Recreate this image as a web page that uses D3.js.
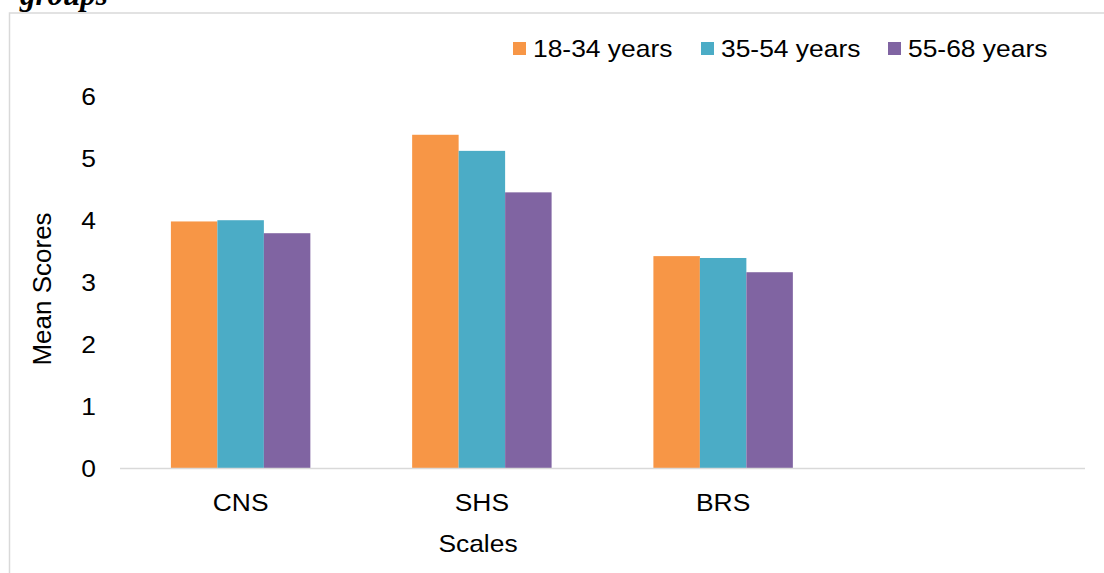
<!DOCTYPE html>
<html>
<head>
<meta charset="utf-8">
<script src="https://cdn.jsdelivr.net/npm/d3@7"></script>
<style>
  html, body { margin: 0; padding: 0; background: #fff; }
  svg { display: block; }
  text { font-family: "Liberation Sans", Arial, sans-serif; fill: #000; }
</style>
</head>
<body>
<svg id="chart" width="1104" height="573"></svg>
<script>
// ---- data ----
const categories = ["CNS", "SHS", "BRS", ""];
const seriesNames = ["18-34 years", "35-54 years", "55-68 years"];
const values1834 = [3.99, 5.39, 3.43, null];
const values3554 = [4.01, 5.13, 3.40, null];
const values5568 = [3.80, 4.46, 3.17, null];
const yTicks = [0, 1, 2, 3, 4, 5, 6];
const colors = ["#F79646", "#4BACC6", "#8064A2"];
const titleText = "groups";
const xTitle = "Scales";
const yTitle = "Mean Scores";

const seriesValues = [values1834, values3554, values5568];

// ---- layout ----
const svg = d3.select("#chart");
const plot = { left: 120, right: 1085, top: 97, bottom: 468.5 };
const sx = 1.1; // horizontal text stretch

// border frame
svg.append("rect")
  .attr("x", 9.5).attr("y", 13)
  .attr("width", 1200).attr("height", 1000)
  .attr("fill", "none").attr("stroke", "#d9d9d9").attr("stroke-width", 1.5);

// cut-off title
svg.append("text")
  .attr("transform", `translate(20,5)`)
  .style("font-family", "'Liberation Serif', 'Times New Roman', serif")
  .style("font-weight", "bold").style("font-style", "italic")
  .style("font-size", "31px")
  .text(titleText);

const x0 = d3.scaleBand().domain(categories).range([plot.left, plot.right]).padding(0);
const groupW = x0.bandwidth() / 1.73;
const x1 = d3.scaleBand().domain(seriesNames).range([0, groupW]).padding(0);
const y = d3.scaleLinear().domain([0, 6]).range([plot.bottom, plot.top]);

// y tick labels
svg.append("g").selectAll("text").data(yTicks).join("text")
  .attr("transform", d => `translate(96,${y(d)}) scale(${sx},1)`)
  .attr("dy", "0.35em")
  .attr("text-anchor", "end")
  .style("font-size", "24px")
  .text(d => d);

// bars
const groups = svg.append("g").selectAll("g").data(categories).join("g")
  .attr("transform", d => `translate(${x0(d) + (x0.bandwidth() - groupW) / 2},0)`);
groups.selectAll("rect")
  .data((c, ci) => seriesNames.map((s, si) => ({ s, si, v: seriesValues[si][ci] })).filter(d => d.v != null))
  .join("rect")
  .attr("x", d => x1(d.s))
  .attr("y", d => y(d.v))
  .attr("width", x1.bandwidth())
  .attr("height", d => y(0) - y(d.v))
  .attr("fill", d => colors[d.si]);

// x axis line
svg.append("line")
  .attr("x1", plot.left).attr("x2", plot.right)
  .attr("y1", y(0)).attr("y2", y(0))
  .attr("stroke", "#d9d9d9").attr("stroke-width", 1.5);

// x category labels
svg.append("g").selectAll("text").data(categories).join("text")
  .attr("transform", d => `translate(${x0(d) + x0.bandwidth() / 2},511) scale(${sx},1)`)
  .attr("text-anchor", "middle")
  .style("font-size", "24px")
  .text(d => d);

// axis titles
svg.append("text")
  .attr("transform", `translate(478,552) scale(${sx},1)`)
  .attr("text-anchor", "middle")
  .style("font-size", "24px")
  .text(xTitle);

svg.append("text")
  .attr("transform", `translate(51,289) rotate(-90)`)
  .attr("text-anchor", "middle")
  .style("font-size", "26px")
  .text(yTitle);

// legend
const legendX = [513, 701, 888];
const lg = svg.append("g").selectAll("g").data(seriesNames).join("g")
  .attr("transform", (d, i) => `translate(${legendX[i]},0)`);
lg.append("rect")
  .attr("x", 0).attr("y", 42).attr("width", 13).attr("height", 13)
  .attr("fill", (d, i) => colors[i]);
lg.append("text")
  .attr("transform", `translate(20,57) scale(${sx},1)`)
  .style("font-size", "24px")
  .text(d => d);
</script>
</body>
</html>
